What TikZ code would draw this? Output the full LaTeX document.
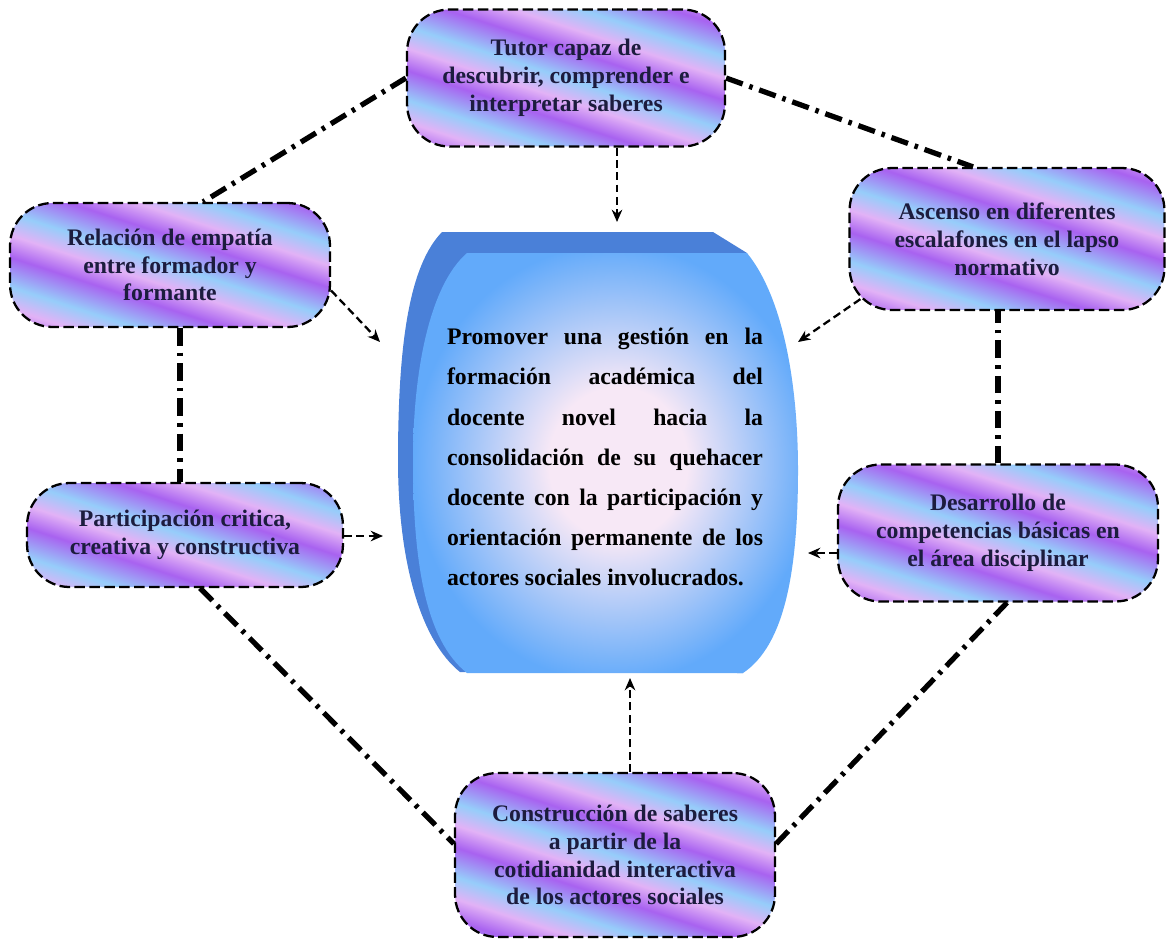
\documentclass[tikz,border=0pt]{standalone}
\usepackage{fontspec}
\setmainfont{Liberation Serif}
\usetikzlibrary{arrows.meta, calc, positioning}

\definecolor{nodoLila}{RGB}{168,98,240}
\definecolor{nodoCeleste}{RGB}{150,205,250}
\definecolor{nodoRosa}{RGB}{226,178,246}
\definecolor{cilLado}{RGB}{74,128,216}
\definecolor{cilAzul}{RGB}{98,170,250}
\definecolor{cilClaro}{RGB}{247,232,246}
\definecolor{tinta}{RGB}{28,28,62}

\pgfdeclareverticalshading{franjas}{100bp}{color(0bp)=(nodoCeleste); color(30bp)=(nodoCeleste); color(34bp)=(nodoLila); color(37bp)=(nodoRosa); color(40bp)=(nodoCeleste); color(44bp)=(nodoLila); color(47bp)=(nodoRosa); color(50bp)=(nodoCeleste); color(54bp)=(nodoLila); color(57bp)=(nodoRosa); color(60bp)=(nodoCeleste); color(64bp)=(nodoLila); color(67bp)=(nodoRosa); color(70bp)=(nodoCeleste); color(100bp)=(nodoCeleste)}
\pgfdeclareradialshading{barril}{\pgfpoint{2bp}{0bp}}{color(0bp)=(cilClaro); color(9bp)=(cilClaro); color(26bp)=(cilAzul); color(50bp)=(cilAzul)}

\newcommand{\renglon}[1]{\makebox[6.32cm][s]{#1}}

\tikzset{
  burbuja/.style={draw=black, line width=1.3pt, dash pattern=on 6pt off 2.5pt,
    rectangle, rounded corners=0.85cm,
    path picture={\shade[shading=franjas, shading angle=-18]
      ($(path picture bounding box.center)+(-3.5cm,-3.5cm)$) rectangle ++(7cm,7cm);},
    align=center, text=tinta, inner sep=3pt,
    font=\fontsize{13.5}{15.8}\selectfont\bfseries},
  enlace/.style={line width=3pt, dash pattern=on 10pt off 4pt on 2pt off 4pt},
  flecha/.style={->, line width=1.3pt, dash pattern=on 4.5pt off 2.5pt},
}

\begin{document}
\begin{tikzpicture}[x=0.02cm, y=-0.02cm, >={Stealth[length=7pt,width=6pt]}]
  \fill[white] (0,0) rectangle (1168,941);
  \useasboundingbox (0,0) rectangle (1168,941);

  % cilindro central
  \fill[cilLado] (442,232) -- (713,232) -- (747,253) -- (743,673) -- (460,672)
    .. controls (420,640) and (398,560) .. (398,460)
    .. controls (398,340) and (410,265) .. (442,232) -- cycle;
  \shade[shading=barril] (467,253) -- (747,253)
    .. controls (785,300) and (798,390) .. (798,470)
    .. controls (798,570) and (785,645) .. (743,673) -- (467,673)
    .. controls (425,640) and (413,560) .. (413,460)
    .. controls (413,370) and (430,285) .. (467,253) -- cycle;
  \node[align=left, inner sep=0pt, text=black,
    font=\fontsize{13.5}{22.8}\selectfont\bfseries]
    (meta) at (605,457) {\renglon{Promover una gestión en la}\\
      \renglon{formación académica del}\\
      \renglon{docente novel hacia la}\\
      \renglon{consolidación de su quehacer}\\
      \renglon{docente con la participación y}\\
      \renglon{orientación permanente de los}\\
      actores sociales involucrados.};

  \coordinate (llegaT) at (617,222);
  \coordinate (llegaR) at (380,342);
  \coordinate (llegaA) at (798,342);
  \coordinate (llegaP) at (383,536);
  \coordinate (llegaD) at (808,553);
  \coordinate (llegaC) at (630,678);

  % nodos
  \node[burbuja, minimum width=6.36cm, minimum height=2.74cm] (tutor) at (566,78)
    {Tutor capaz de\\descubrir, comprender e\\interpretar saberes};
  \node[burbuja, minimum width=6.4cm, minimum height=2.48cm] (rel) at (170,265)
    {Relación de empatía\\entre formador y\\formante};
  \node[burbuja, minimum width=6.32cm, minimum height=2.08cm] (par) at (185,535)
    {Participación critica,\\creativa y constructiva};
  \node[burbuja, minimum width=6.3cm, minimum height=2.84cm] (asc) at (1007,239)
    {Ascenso en diferentes\\escalafones en el lapso\\normativo};
  \node[burbuja, minimum width=6.4cm, minimum height=2.74cm] (des) at (998,533)
    {Desarrollo de\\competencias básicas en\\el área disciplinar};
  \node[burbuja, minimum width=6.4cm, minimum height=3.28cm] (con) at (615,855)
    {Construcción de saberes\\a partir de la\\cotidianidad interactiva\\de los actores sociales};

  % enlaces
  \draw[enlace] (tutor.west) -- ([xshift=0.66cm]rel.north);
  \draw[enlace] (tutor.east) -- ([xshift=-0.68cm]asc.north);
  \draw[enlace] ([xshift=0.2cm]rel.south) -- ([xshift=0.2cm]rel.south |- par.north);
  \draw[enlace] (des.north) -- (des.north |- asc.south);
  \draw[enlace] ([xshift=0.3cm]par.south) -- (con.176);
  \draw[enlace] ([xshift=0.18cm]des.south) -- (con.4);

  % flechas
  \draw[flecha] (tutor.south -| llegaT) -- (llegaT);
  \draw[flecha] (rel.-9) -- (llegaR);
  \draw[flecha] ($(asc.south west)+(12,-12)$) -- (llegaA);
  \draw[flecha] (par.east |- llegaP) -- (llegaP);
  \draw[flecha] (des.west |- llegaD) -- (llegaD);
  \draw[flecha] (con.north -| llegaC) -- (llegaC);
\end{tikzpicture}
\end{document}
